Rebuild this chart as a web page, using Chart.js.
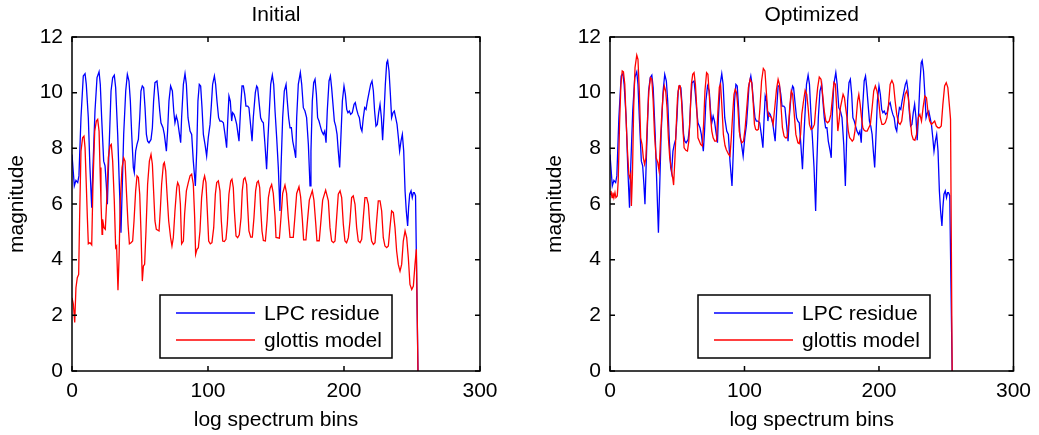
<!DOCTYPE html>
<html>
<head>
<meta charset="utf-8">
<script src="https://cdn.jsdelivr.net/npm/chart.js@4.4.1/dist/chart.umd.min.js"></script>
<style>
  html, body { margin: 0; padding: 0; background: #fff; overflow: hidden; }
  #wrap { position: relative; width: 1039px; height: 435px; }
  canvas { position: absolute; top: 0; }
  #c1 { left: 0; }
  #c2 { left: 538px; }
</style>
</head>
<body>
<div id="wrap">
  <canvas id="c1" width="520" height="435"></canvas>
  <canvas id="c2" width="501" height="435"></canvas>
</div>
<script>
// ---- data ----
const panelTitles = ['Initial', 'Optimized'];
const seriesNames = ['LPC residue', 'glottis model'];
const xTitle = 'log spectrum bins';
const yTitle = 'magnitude';
const xTicks = [0, 100, 200, 300];
const yTicks = [0, 2, 4, 6, 8, 10, 12];

// LPC residue (same in both panels)
const lpcBins = [0,1.7,2.9,4.2,5.1,6.6,8.3,9.6,10.5,12.0,13.2,14.5,15.4,16.9,18.4,19.9,20.8,21.8,23.3,24.3,25.2,26.0,27.2,28.7,29.9,31.1,32.1,33.6,34.8,36.0,37.0,38.0,39.5,40.7,41.9,42.9,43.9,45.1,45.8,46.8,47.8,48.8,49.8,50.7,51.7,52.7,53.7,54.7,55.6,56.6,58.1,59.1,60.0,61.0,62.5,63.5,64.5,65.4,66.9,67.9,69.4,70.3,71.3,72.5,73.8,74.8,75.7,76.7,77.7,78.7,79.9,80.6,81.9,83.1,84.1,85.3,86.8,88.0,89.2,90.0,90.7,91.7,92.6,93.6,94.6,95.6,96.6,97.8,99.0,100.2,101.5,102.5,103.4,104.7,105.6,106.6,107.8,108.8,110.0,111.3,112.5,113.7,114.5,115.4,116.4,117.4,118.1,119.1,119.9,121.1,122.1,122.8,124.0,125.0,126.0,127.0,127.9,129.2,130.1,131.4,132.4,133.3,134.8,135.8,136.5,137.7,138.7,139.7,140.7,141.9,143.1,144.1,145.1,146.1,147.3,148.3,149.3,150.5,151.7,152.9,153.7,154.9,156.1,157.4,158.3,159.3,160.3,161.3,162.3,163.7,164.5,165.2,166.4,167.9,168.9,170.1,171.3,172.5,173.8,175.0,175.7,176.7,177.7,178.7,179.7,180.6,181.6,182.6,183.6,184.8,185.8,186.8,187.7,189.0,190.0,190.9,191.9,192.9,193.9,194.9,195.8,196.8,197.8,198.8,200.0,201.0,202.0,202.9,203.9,204.9,206.1,207.4,208.3,209.3,210.3,211.3,212.3,213.2,214.2,215.2,216.2,217.2,218.4,219.6,220.6,221.6,222.5,223.5,224.5,225.5,226.5,227.5,228.4,229.4,230.4,231.4,232.1,233.1,234.1,235.0,236.0,237.0,238.0,239.0,240.0,240.9,241.9,242.9,243.9,244.9,245.8,246.8,247.5,248.3,249.3,250.2,251.0,251.7,252.6,254.4];
const lpcResidue = [7.78,6.65,6.85,6.77,7.01,9.10,10.60,10.68,10.30,9.10,7.31,5.87,7.31,9.34,10.54,10.75,10.30,9.10,7.54,7.37,6.71,5.99,7.90,10.06,10.54,10.63,10.18,8.50,6.71,4.97,6.71,8.50,10.06,10.66,10.42,9.70,8.50,7.31,7.13,7.90,8.14,8.32,9.10,10.06,10.24,10.18,9.46,8.50,8.26,8.20,8.32,8.74,9.70,10.36,10.42,9.94,9.34,8.92,8.74,8.50,7.90,8.62,9.70,10.24,10.06,9.34,8.92,9.16,8.98,8.62,8.20,9.10,10.30,10.68,10.30,9.10,8.62,8.50,7.54,7.07,6.65,7.90,9.70,10.30,10.24,9.46,8.50,8.14,7.72,8.38,8.86,9.58,10.30,10.60,10.30,9.70,9.10,8.98,8.98,8.92,8.50,8.02,8.98,9.88,9.70,8.98,9.28,9.22,9.10,8.86,8.50,8.26,9.46,10.24,10.24,9.94,9.52,9.52,9.46,8.80,8.26,9.10,10.00,10.24,10.18,9.58,9.10,8.98,8.92,8.14,7.25,8.38,9.34,10.30,10.63,10.30,9.34,8.38,7.31,5.75,7.31,9.10,10.06,10.30,9.70,9.10,8.74,8.74,8.26,7.90,7.66,9.10,10.30,10.72,10.30,9.46,9.34,9.10,8.14,6.65,7.90,9.70,10.36,10.48,9.94,9.10,8.98,8.80,8.62,8.50,8.62,8.20,9.34,10.42,10.60,10.18,9.58,8.98,8.80,8.50,7.90,7.31,8.50,9.70,10.24,9.94,9.40,9.28,9.34,9.22,9.28,9.58,9.64,9.40,9.22,9.10,8.74,8.62,9.10,9.46,9.40,9.70,10.00,10.30,10.42,10.06,9.34,8.80,8.86,9.28,9.58,9.10,8.29,9.22,10.30,11.08,11.16,10.78,9.94,9.10,9.28,9.34,9.10,8.86,8.38,7.90,8.26,8.50,7.90,6.47,5.75,5.21,5.87,6.35,6.47,6.23,6.41,6.41,6.30,0];

// glottis model, initial
const initBins = [0,1.0,2.0,2.9,3.9,4.9,5.6,6.6,7.8,8.8,9.6,10.5,11.3,12.0,13.2,14.5,15.4,16.7,17.9,18.9,19.9,20.6,21.3,22.1,22.5,23.5,24.5,25.5,26.7,27.9,28.9,29.9,31.1,32.1,32.8,33.8,34.6,35.5,36.8,38.0,39.0,40.0,41.2,42.2,43.4,44.6,45.6,46.8,47.8,48.8,49.8,50.7,51.7,52.5,53.4,54.4,55.6,56.9,58.1,59.1,60.0,61.0,62.0,64.0,64.9,65.9,67.2,67.9,68.9,69.9,71.1,72.5,73.5,74.5,75.7,77.0,77.7,78.7,79.7,80.6,81.9,82.8,84.1,85.5,86.8,88.0,89.2,90.2,90.9,91.9,92.9,94.1,95.3,96.6,97.5,98.5,99.5,100.5,101.7,102.9,104.2,105.4,106.4,107.6,108.8,109.8,110.8,112.0,113.2,114.2,115.4,116.7,117.6,118.6,119.4,120.6,121.8,123.0,124.3,125.2,126.2,127.2,128.4,129.2,130.1,131.4,132.6,133.8,135.0,136.0,137.0,138.0,138.7,139.7,140.7,142.2,143.4,144.4,145.6,146.8,148.0,149.3,150.0,152.5,153.7,154.9,156.6,157.8,159.0,160.3,162.7,163.9,165.2,166.9,168.1,169.4,170.3,172.0,173.2,174.5,176.7,177.9,179.2,180.1,181.8,183.1,184.3,186.5,188.5,189.7,190.9,192.2,193.4,194.6,195.8,197.1,198.3,199.5,200.7,201.9,203.2,204.4,205.6,206.8,208.1,209.3,210.5,211.8,213.0,214.2,215.4,216.7,217.9,219.1,220.3,221.6,222.8,224.0,225.2,226.5,227.7,228.9,230.1,231.4,232.6,233.8,235.0,236.3,237.5,238.7,239.9,241.2,242.4,243.6,244.9,246.1,247.3,248.5,249.8,251.0,252.2,253.2,254.4];
const glottisInitial = [2.63,2.40,1.74,2.99,3.35,3.47,5.51,7.90,8.38,8.44,8.02,6.71,5.51,4.57,4.61,4.53,6.71,8.62,8.98,9.04,8.62,7.31,6.11,4.91,5.45,5.15,5.09,6.11,7.66,8.08,8.14,7.54,6.11,4.43,4.49,2.90,4.07,6.11,7.31,7.66,7.54,6.47,5.27,4.57,4.61,4.67,5.39,6.47,7.01,6.95,6.35,5.03,3.23,3.77,3.83,5.03,6.71,7.54,7.78,7.43,6.47,5.39,5.09,5.03,5.75,6.71,7.43,7.49,7.19,6.35,5.39,4.79,4.49,4.79,5.75,6.59,6.77,6.65,5.99,4.57,4.67,5.63,6.47,6.77,7.01,7.07,6.71,5.51,4.19,4.37,4.43,5.03,6.23,6.83,7.01,6.77,5.75,4.67,4.57,4.61,5.15,6.35,6.77,6.83,6.47,5.39,4.67,4.65,4.73,5.27,6.35,6.83,6.89,6.59,5.75,4.85,4.79,4.89,5.51,6.47,6.89,6.95,6.71,5.87,5.03,4.81,4.81,5.51,6.47,6.77,6.83,6.59,5.87,5.03,4.69,4.67,5.39,6.23,6.56,6.70,6.38,5.54,4.80,4.77,5.54,6.38,6.68,6.38,5.54,4.80,4.80,5.54,6.38,6.62,6.26,5.43,4.71,4.71,5.43,6.14,6.48,6.14,5.31,4.68,4.68,5.43,6.14,6.50,6.11,5.15,4.67,4.61,4.67,5.51,6.35,6.47,6.23,5.27,4.67,4.61,4.79,5.39,6.23,6.29,5.99,5.15,4.67,4.61,4.73,5.51,6.23,6.23,5.99,5.15,4.67,4.55,4.61,5.39,6.11,6.11,5.75,4.79,4.49,4.43,4.49,5.15,5.75,5.69,5.15,4.31,3.83,3.59,3.83,4.67,5.03,4.79,4.07,3.11,2.93,3.05,3.83,4.37,0];

// glottis model, optimized
const optBins = [0,0.7,1.5,2.2,2.9,3.7,4.4,5.4,6.1,7.1,8.1,9.1,10.0,11.0,12.0,13.0,14.0,14.7,15.4,15.9,16.7,17.6,18.6,19.9,20.8,21.8,22.8,23.8,24.8,25.7,26.7,27.7,28.9,30.1,31.1,32.1,33.1,34.3,35.5,36.5,37.5,38.5,39.5,40.4,41.4,42.4,43.4,44.4,45.3,46.6,47.3,48.3,49.3,50.2,51.2,52.2,53.2,54.2,55.1,56.4,57.6,58.6,59.6,60.5,61.5,62.5,63.5,64.5,65.4,66.4,67.4,68.6,69.6,70.6,71.8,72.8,73.8,74.8,75.7,76.7,77.9,79.2,80.2,81.3,82.2,83.2,84.3,85.5,86.5,88.2,89.2,90.2,91.2,92.2,93.1,94.1,95.1,96.1,97.1,98.0,99.3,100.5,101.7,102.9,104.2,105.4,106.4,107.4,108.3,109.3,110.3,111.5,112.7,114.0,115.2,116.2,117.2,118.1,119.1,120.1,121.3,122.5,123.8,125.0,126.0,126.9,128.2,129.4,130.4,131.6,132.8,133.8,134.8,135.8,137.0,138.2,139.7,140.7,141.7,142.6,143.9,145.1,146.3,147.3,148.3,149.5,150.7,152.0,153.2,154.4,155.6,156.9,158.1,159.3,160.5,161.8,163.0,164.2,165.4,166.5,167.6,168.5,169.4,170.3,171.3,172.3,173.3,174.3,175.2,176.2,177.2,178.2,179.2,180.1,181.1,182.1,183.1,184.1,185.0,186.0,187.0,188.0,189.0,190.0,191.2,192.4,193.6,194.9,196.1,197.3,198.5,199.8,201.0,202.2,203.4,204.7,205.9,207.1,208.3,209.6,210.8,212.0,213.2,214.5,215.7,216.9,218.1,219.4,220.6,221.8,223.0,224.3,225.5,226.7,227.9,229.2,230.4,231.6,232.8,234.1,235.3,236.5,237.7,239.0,240.2,241.4,242.6,243.9,245.1,246.3,247.5,248.8,250.0,251.2,252.5,253.2,254.4];
const glottisOptimized = [6.35,6.47,6.23,6.41,6.23,6.41,6.23,6.29,6.83,8.86,10.30,10.78,10.75,10.30,8.98,7.90,7.07,6.95,7.07,5.93,7.07,9.46,10.90,11.35,11.20,10.06,8.38,8.14,7.66,7.43,7.66,8.86,10.06,10.54,10.48,9.70,8.50,7.66,7.49,7.19,8.26,9.22,9.94,10.24,10.06,9.46,8.38,7.66,7.37,6.95,6.68,7.66,8.86,9.82,10.24,10.24,9.70,8.74,8.02,7.93,7.90,8.26,9.22,10.30,10.66,10.72,10.30,9.46,8.38,8.26,8.14,8.08,8.86,10.06,10.72,10.66,9.94,9.10,8.62,8.38,8.26,8.26,9.30,10.20,10.30,9.50,8.50,8.10,7.95,7.78,7.72,8.38,9.22,9.94,10.12,10.00,9.46,8.62,8.32,8.20,8.26,8.74,9.46,10.18,10.48,10.36,9.70,8.86,8.68,8.65,8.68,9.46,10.42,10.87,10.78,10.06,9.34,9.16,9.16,9.10,8.86,9.46,10.12,10.48,10.30,9.70,8.74,8.44,8.38,8.38,8.86,9.58,10.06,9.94,9.22,8.50,8.20,8.17,8.50,9.22,9.70,10.08,9.94,9.46,8.86,8.68,8.72,8.86,9.58,10.18,10.56,10.48,9.94,9.34,8.98,8.92,8.98,9.22,9.82,10.36,10.30,9.50,8.62,8.98,9.46,9.70,9.94,9.82,9.46,9.10,8.62,8.38,8.32,8.26,8.32,8.62,9.10,9.70,9.94,9.58,9.10,8.74,8.65,8.62,8.62,8.74,8.86,9.46,10.06,10.24,10.06,9.70,9.10,8.86,8.86,8.92,9.10,9.58,10.30,10.44,10.30,9.70,9.22,8.92,8.86,8.98,9.46,9.94,10.06,9.82,9.22,8.50,8.32,8.29,8.50,9.10,9.22,8.98,9.46,9.88,9.82,9.28,8.98,8.86,8.92,8.98,8.80,8.74,8.74,8.80,9.58,10.24,10.36,10.18,9.46,9.04,0];

const BLUE = '#0000ff';
const RED = '#ff0000';
const FONT = '"Liberation Sans", Arial, Helvetica, sans-serif';
const FS = 21;

function pts(bins, vals) { return bins.map((b, i) => ({ x: b, y: vals[i] })); }

Chart.defaults.font.family = FONT;
Chart.defaults.font.size = FS;
Chart.defaults.color = '#000';

const matlabAxes = {
  id: 'matlabAxes',
  afterDatasetsDraw(chart, args, opts) {
    const { ctx, chartArea: a, scales } = chart;
    const x = scales.x, y = scales.y;
    ctx.save();
    ctx.strokeStyle = '#000';
    ctx.lineWidth = 1.5;
    ctx.strokeRect(a.left, a.top, a.right - a.left, a.bottom - a.top);
    const L = 5;
    ctx.beginPath();
    x.ticks.forEach(t => {
      const p = x.getPixelForValue(t.value);
      ctx.moveTo(p, a.bottom); ctx.lineTo(p, a.bottom - L);
      ctx.moveTo(p, a.top); ctx.lineTo(p, a.top + L);
    });
    y.ticks.forEach(t => {
      const p = y.getPixelForValue(t.value);
      ctx.moveTo(a.left, p); ctx.lineTo(a.left + L, p);
      ctx.moveTo(a.right, p); ctx.lineTo(a.right - L, p);
    });
    ctx.stroke();

    // panel title, centred over the axes box
    ctx.fillStyle = '#000';
    ctx.font = FS + 'px ' + FONT;
    ctx.textAlign = 'center';
    ctx.textBaseline = 'alphabetic';
    ctx.fillText(opts.title, (a.left + a.right) / 2, a.top - 16);

    // legend box (lower middle of the axes)
    const lx = a.left + 88, ly = a.top + 258, lw = 232, lh = 63;
    ctx.fillStyle = '#fff';
    ctx.fillRect(lx, ly, lw, lh);
    ctx.lineWidth = 1.5;
    ctx.strokeRect(lx, ly, lw, lh);
    ctx.textBaseline = 'middle';
    ctx.textAlign = 'left';
    chart.data.datasets.forEach((ds, i) => {
      const yy = ly + 18 + i * 27;
      ctx.strokeStyle = ds.borderColor;
      ctx.lineWidth = 1.3;
      ctx.beginPath();
      ctx.moveTo(lx + 16, yy); ctx.lineTo(lx + 95, yy);
      ctx.stroke();
      ctx.fillStyle = '#000';
      ctx.fillText(ds.label, lx + 104, yy + 1);
    });
    ctx.restore();
  }
};

function makeChart(id, title, redBins, redVals, rightPad) {
  return new Chart(document.getElementById(id), {
    type: 'line',
    data: {
      datasets: [
        { label: seriesNames[0], data: pts(lpcBins, lpcResidue), borderColor: BLUE, borderWidth: 1.3, pointRadius: 0, tension: 0, fill: false, order: 1 },
        { label: seriesNames[1], data: pts(redBins, redVals), borderColor: RED, borderWidth: 1.3, pointRadius: 0, tension: 0, fill: false, order: 0 }
      ]
    },
    options: {
      responsive: false,
      animation: false,
      events: [],
      layout: { padding: { left: 0, right: rightPad, top: 37, bottom: 0 } },
      plugins: {
        legend: { display: false },
        tooltip: { enabled: false },
        title: { display: false },
        matlabAxes: { title: title }
      },
      scales: {
        x: {
          type: 'linear', min: 0, max: 300,
          afterBuildTicks: s => { s.ticks = xTicks.map(v => ({ value: v })); },
          ticks: { padding: 8, color: '#000', maxRotation: 0 },
          grid: { display: false, drawTicks: false }, border: { display: false },
          title: { display: true, text: xTitle, color: '#000', padding: { top: 2, bottom: 2 } },
          afterFit: s => { s.height = 64; }
        },
        y: {
          type: 'linear', min: 0, max: 12,
          afterBuildTicks: s => { s.ticks = yTicks.map(v => ({ value: v })); },
          ticks: { padding: 9, color: '#000' },
          grid: { display: false, drawTicks: false }, border: { display: false },
          title: { display: true, text: yTitle, color: '#000', padding: { top: 5, bottom: 0 } },
          afterFit: s => { s.width = 72; }
        }
      }
    },
    plugins: [matlabAxes]
  });
}

makeChart('c1', panelTitles[0], initBins, glottisInitial, 40);
makeChart('c2', panelTitles[1], optBins, glottisOptimized, 21);
</script>
</body>
</html>
